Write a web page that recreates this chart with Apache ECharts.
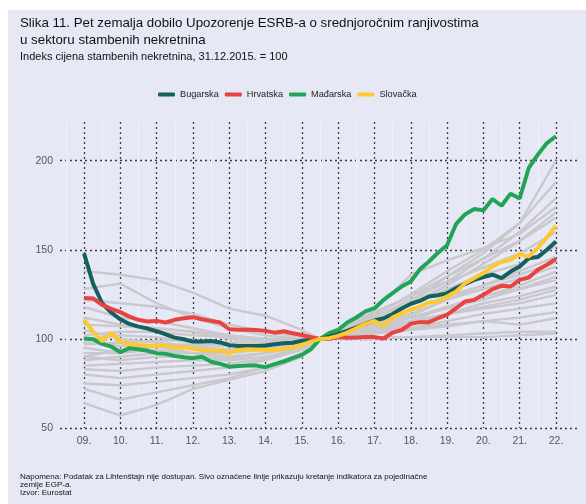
<!DOCTYPE html>
<html>
<head>
<meta charset="utf-8">
<script src="https://cdn.jsdelivr.net/npm/echarts@6/dist/echarts.min.js"></script>
<style>
html, body { margin: 0; padding: 0; background: #fff; }
#bg { position: absolute; left: 8px; top: 10px; width: 578px; height: 494px; background: #e7e8f5; }
#chart { position: absolute; left: 0; top: 0; width: 586px; height: 504px; }
</style>
</head>
<body>
<div id="bg"></div>
<div id="chart"></div>
<script>
// kvartalni podaci 2009Q1 - 2022Q1, indeks = 100
const startYear = 2009
const years = [2009, 2010, 2011, 2012, 2013, 2014, 2015, 2016, 2017, 2018, 2019, 2020, 2021, 2022]
const yTicks = [50, 100, 150, 200]

const bugarska = [
  148, 131, 120, 114.8, 111, 108.4, 106.9, 105.8, 104.3, 102.6, 100.7, 99.8, 98.5,
  98.5, 98.8, 98, 96.5, 96, 96, 96, 96.3, 97, 97.5, 97.8, 99, 99.5,
  100, 101.3, 102.8, 104.5, 106.4, 108.5, 110.3, 111.6, 114, 117, 119.7, 121.3, 123.8,
  124.5, 125.7, 128.5, 130.9, 133.1, 134.7, 136, 134.1, 137.8, 140.6, 145.3, 145.9, 150, 154.6
]
const hrvatska = [
  122.9, 122.7, 119.1, 116.9, 115, 112.5, 110.7, 109.7, 110.1, 109.2, 110.7, 111.6, 112.2,
  111, 110.1, 109.2, 105.4, 105.1, 105.1, 105, 104.5, 103.5, 104.3, 103.2, 102.2, 101,
  100, 100, 101, 100.6, 100.8, 101, 101, 100.2, 103.5, 105, 108.5, 109.4, 109.4,
  111.6, 113.5, 117.2, 121, 121.9, 124.7, 127.9, 129.8, 129.4, 133.1, 134.4, 138.8, 141.6, 144.9
]
const madarska = [
  100.2, 99.8, 97.2, 95.7, 92.5, 94.8, 94.2, 93.3, 92, 91.6, 90.4, 89.7, 89.2,
  90, 87.2, 86, 84.4, 84.8, 85, 85, 84.1, 85.8, 87.3, 89.2, 91, 94.2,
  100, 103.2, 105, 109.2, 112, 115.4, 117.2, 121.9, 125.7, 129.4, 132.2, 139, 143.4,
  148.3, 152.5, 164.6, 170, 172.9, 172.1, 178.5, 174.7, 181.5, 178.8, 195.9, 203.4, 209.9, 213.7
]
const slovacka = [
  110.7, 104.1, 98.7, 103.5, 98.3, 97.2, 96.6, 96.3, 96.1, 96.1, 95.1, 95.3, 94.4,
  93.8, 93.4, 93.4, 92, 93.8, 94.2, 94, 93.8, 93.8, 94.4, 95.1, 96.6, 98.5,
  100, 100.4, 101.7, 103.5, 106, 108.4, 110.1, 107.3, 112, 114.4, 116.5, 118.1, 120.4,
  121, 123.8, 126.6, 131.3, 134.1, 136.9, 140.6, 143.1, 144.4, 147.6, 146.2, 151, 157, 163.5
]

// ostale zemlje EGP-a (sivo), vrijednosti krajem godina
const sivoX = [2009, 2010, 2011, 2012, 2013, 2014, 2015, 2015.5, 2016, 2017, 2018, 2019, 2020, 2021, 2022]
const sivo = [
  [95, 92, 96, 92, 90, 92, 96, 100, 104, 113, 125, 138, 150, 165, 200],
  [118, 112, 110, 106, 102, 100, 99, 100, 102, 108, 120, 135, 148, 165, 188],
  [105, 100, 98, 96, 94, 95, 97, 100, 104, 112, 122, 132, 145, 160, 179],
  [90, 88, 90, 90, 89, 92, 96, 100, 103, 116, 136, 144, 151, 159, 174],
  [85, 86, 87, 88, 88, 90, 95, 100, 104, 112, 120, 130, 142, 155, 171],
  [80, 78, 80, 82, 84, 88, 94, 100, 105, 114, 124, 135, 145, 155, 168],
  [72, 66, 70, 74, 78, 84, 92, 100, 106, 115, 124, 132, 140, 148, 160],
  [64, 57, 63, 72, 77, 82, 90, 100, 104, 112, 120, 128, 136, 142, 152],
  [128, 131, 120, 112, 106, 102, 100, 100, 101, 106, 113, 122, 130, 138, 146],
  [112, 108, 106, 104, 100, 99, 99, 100, 102, 108, 116, 124, 130, 136, 143],
  [100, 102, 101, 98, 96, 96, 98, 100, 103, 108, 114, 122, 128, 134, 140.6],
  [138, 136, 133, 126, 117, 113, 105, 100, 101, 104, 110, 118, 124, 130, 137.8],
  [98, 96, 96, 95, 94, 96, 98, 100, 102, 106, 112, 118, 124, 128, 135],
  [88, 90, 92, 92, 92, 94, 97, 100, 103, 107, 112, 117, 122, 128, 133],
  [122, 120, 118, 114, 108, 104, 101, 100, 101, 104, 108, 114, 120, 124, 129.4],
  [92, 92, 94, 92, 90, 92, 96, 100, 102, 105, 110, 114, 118, 122, 127.5],
  [83, 82, 84, 85, 86, 89, 95, 100, 103, 106, 110, 114, 117, 120, 124.7],
  [108, 107, 106, 104, 102, 100, 100, 100, 101, 104, 106, 110, 114, 117, 120],
  [75, 74, 76, 78, 80, 84, 92, 100, 102, 104, 106, 108, 110, 112, 115],
  [102, 104, 104, 102, 101, 100, 100, 100, 101, 103, 105, 107, 110, 108, 111.6],
  [97, 98, 99, 99, 98, 98, 99, 100, 100, 101, 101, 102, 103, 104, 104],
  [90, 94, 96, 97, 96, 96, 97, 100, 100, 100, 101, 101, 101, 102, 103]
]

const FONT = 'Liberation Sans, Arial, sans-serif'
const xMin = 2008.339
const xMax = 2022.661

function quarterly(arr) {
  return arr.map((v, i) => [startYear + i / 4, v])
}

const chart = echarts.init(document.getElementById('chart'))

const dotted = { type: [2, 3], color: '#3b3b48', width: 1.3 }

const greySeries = sivo.map((arr, k) => ({
  name: 'sivo' + k,
  type: 'line',
  data: arr.map((v, i) => [sivoX[i], v]),
  showSymbol: false,
  silent: true,
  z: 1,
  lineStyle: { color: '#c9c9cd', width: 2.4 }
}))

function colored(name, data, color, z) {
  return {
    name: name,
    type: 'line',
    data: quarterly(data),
    showSymbol: false,
    z: z,
    itemStyle: { color: color },
    lineStyle: { color: color, width: 4 }
  }
}

chart.setOption({
  backgroundColor: 'transparent',
  animation: false,
  textStyle: { fontFamily: FONT },
  title: [
    {
      text: 'Slika 11. Pet zemalja dobilo Upozorenje ESRB-a o srednjoročnim ranjivostima\nu sektoru stambenih nekretnina',
      left: 20,
      top: 15,
      padding: 0,
      textStyle: { fontSize: 13.3, fontWeight: 'normal', color: '#111', lineHeight: 17, fontFamily: FONT }
    },
    {
      text: 'Indeks cijena stambenih nekretnina, 31.12.2015. = 100',
      left: 20,
      top: 51,
      padding: 0,
      textStyle: { fontSize: 11, fontWeight: 'normal', color: '#111', fontFamily: FONT }
    }
  ],
  legend: {
    data: ['Bugarska', 'Hrvatska', 'Mađarska', 'Slovačka'],
    left: 158,
    top: 90,
    padding: 0,
    icon: 'roundRect',
    itemWidth: 17,
    itemHeight: 4,
    itemGap: 6,
    textStyle: { fontSize: 9.2, color: '#222', fontFamily: FONT }
  },
  grid: { left: 60, right: 6, top: 122, bottom: 76 },
  xAxis: [
    {
      type: 'value',
      min: xMin,
      max: xMax,
      axisLine: { show: false },
      axisTick: { show: false, customValues: years },
      axisLabel: {
        customValues: years,
        formatter: v => String(Math.round(v) % 100).padStart(2, '0') + '.',
        color: '#555',
        fontSize: 10.5,
        margin: 8
      },
      splitLine: { show: true, lineStyle: dotted }
    },
    {
      type: 'value',
      position: 'top',
      min: xMin,
      max: xMax,
      axisLine: { show: false },
      axisTick: { show: false, customValues: years.map(y => y - 0.5).concat([2022.5]) },
      axisLabel: { show: false },
      splitLine: { show: true, lineStyle: { color: '#f1f1f9', width: 1 } }
    }
  ],
  yAxis: {
    type: 'value',
    min: 50,
    max: 221.7,
    axisLine: { show: false },
    axisTick: { show: false, customValues: yTicks },
    axisLabel: { customValues: yTicks, color: '#555', fontSize: 10.5, margin: 7 },
    splitLine: { show: true, lineStyle: dotted }
  },
  series: greySeries.concat([
    colored('Mađarska', madarska, '#22a457', 3),
    colored('Bugarska', bugarska, '#155f5d', 4),
    colored('Hrvatska', hrvatska, '#e8433f', 5),
    colored('Slovačka', slovacka, '#fdc832', 6)
  ]),
  graphic: [
    {
      type: 'text',
      left: 20,
      top: 473,
      style: {
        text: 'Napomena: Podatak za Lihtenštajn nije dostupan. Sivo označene linije prikazuju kretanje indikatora za pojedinačne\nzemlje EGP-a.\nIzvor: Eurostat',
        fontSize: 8,
        lineHeight: 7.7,
        fill: '#111',
        fontFamily: FONT
      }
    }
  ]
})
</script>
</body>
</html>
